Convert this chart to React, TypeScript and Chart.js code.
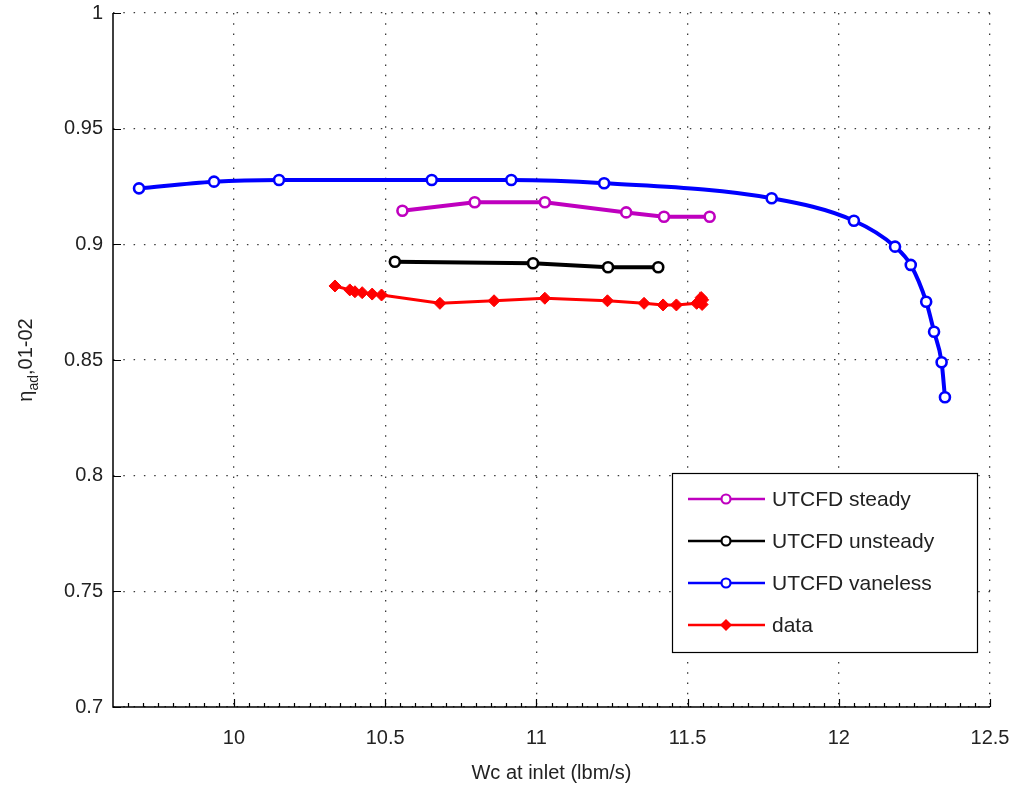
import React, { useEffect, useRef } from "react";
import { Chart, registerables } from "chart.js";

Chart.register(...registerables);

const xTicks = [10, 10.5, 11, 11.5, 12, 12.5];
const yTicks = [0.7, 0.75, 0.8, 0.85, 0.9, 0.95, 1];

const steadyX = [10.557, 10.796, 11.028, 11.297, 11.422, 11.573];
const steadyY = [0.9145, 0.9182, 0.9182, 0.9138, 0.9119, 0.9119];

const unsteadyX = [10.532, 10.989, 11.237, 11.403];
const unsteadyY = [0.8925, 0.8918, 0.8901, 0.8901];

const vanelessX = [9.686, 9.934, 10.149, 10.654, 10.917, 11.224, 11.778, 12.05, 12.186, 12.238, 12.289, 12.315, 12.34, 12.351];
const vanelessY = [0.9242, 0.9271, 0.9278, 0.9278, 0.9278, 0.9264, 0.9199, 0.9102, 0.899, 0.8911, 0.8752, 0.8622, 0.849, 0.8339];

const dataX = [10.334, 10.383, 10.4, 10.424, 10.457, 10.488, 10.681, 10.86, 11.028, 11.235, 11.356, 11.419, 11.463, 11.53, 11.54, 11.548, 11.545, 11.55];
const dataY = [0.882, 0.8803, 0.8795, 0.8791, 0.8785, 0.8781, 0.8745, 0.8756, 0.8767, 0.8756, 0.8745, 0.8738, 0.8738, 0.8745, 0.8752, 0.874, 0.877, 0.876];

const seriesNames = ["UTCFD steady", "UTCFD unsteady", "UTCFD vaneless", "data"];
const seriesColors = ["#bf00bf", "#000000", "#0000ff", "#ff0000"];

const FONT = '"Liberation Sans", Arial, sans-serif';

const pts = (xs: number[], ys: number[]) => xs.map((x, i) => ({ x, y: ys[i] }));

const decorPlugin = {
  id: "decor",
  afterDraw(chart: any) {
    const ctx = chart.ctx;
    const xs = chart.scales.x;
    const ys = chart.scales.y;
    const { left, right, top, bottom } = chart.chartArea;
    ctx.save();
    ctx.strokeStyle = "#000";
    ctx.lineWidth = 1.5;
    ctx.beginPath();
    ctx.moveTo(left, top);
    ctx.lineTo(left, bottom);
    ctx.lineTo(right, bottom);
    ctx.stroke();
    ctx.lineWidth = 1.2;
    ctx.beginPath();
    yTicks.forEach((v) => {
      const py = Math.round(ys.getPixelForValue(v)) + 0.5;
      ctx.moveTo(left, py);
      ctx.lineTo(left + 8, py);
    });
    xTicks.forEach((v) => {
      const px = Math.round(xs.getPixelForValue(v)) + 0.5;
      ctx.moveTo(px, bottom);
      ctx.lineTo(px, bottom - 8);
    });
    for (let k = 193; k <= 250; k++) {
      const v = k * 0.05;
      if (v < xs.min - 1e-9 || v > xs.max + 1e-9) continue;
      const px = Math.round(xs.getPixelForValue(v)) + 0.5;
      ctx.moveTo(px, bottom);
      ctx.lineTo(px, bottom - 4);
    }
    ctx.stroke();

    ctx.fillStyle = "#222";
    ctx.font = `20px ${FONT}`;
    ctx.textAlign = "center";
    ctx.textBaseline = "middle";
    ctx.fillText("Wc at inlet (lbm/s)", (left + right) / 2, 773);

    ctx.translate(32, (top + bottom) / 2);
    ctx.rotate(-Math.PI / 2);
    ctx.textAlign = "left";
    ctx.textBaseline = "alphabetic";
    const mainFont = `20px ${FONT}`;
    const subFont = `14px ${FONT}`;
    ctx.font = mainFont;
    const w1 = ctx.measureText("\u03b7").width;
    const w3 = ctx.measureText(",01-02").width;
    ctx.font = subFont;
    const w2 = ctx.measureText("ad").width;
    let sx = -(w1 + w2 + w3) / 2;
    ctx.font = mainFont;
    ctx.fillText("\u03b7", sx, 0);
    sx += w1;
    ctx.font = subFont;
    ctx.fillText("ad", sx, 6);
    sx += w2;
    ctx.font = mainFont;
    ctx.fillText(",01-02", sx, 0);
    ctx.restore();

    ctx.save();
    const bx = 672, by = 473, bw = 305, bh = 179;
    ctx.fillStyle = "#fff";
    ctx.fillRect(bx, by, bw, bh);
    ctx.strokeStyle = "#000";
    ctx.lineWidth = 1.2;
    ctx.strokeRect(bx + 0.5, by + 0.5, bw, bh);
    const rows = [499, 541, 583, 625];
    rows.forEach((ry, i) => {
      const c = seriesColors[i];
      ctx.strokeStyle = c;
      ctx.lineWidth = 2.5;
      ctx.beginPath();
      ctx.moveTo(688, ry);
      ctx.lineTo(765, ry);
      ctx.stroke();
      if (i === 3) {
        ctx.fillStyle = c;
        ctx.beginPath();
        ctx.moveTo(726, ry - 6);
        ctx.lineTo(732, ry);
        ctx.lineTo(726, ry + 6);
        ctx.lineTo(720, ry);
        ctx.closePath();
        ctx.fill();
      } else {
        ctx.fillStyle = "#fff";
        ctx.lineWidth = 2.2;
        ctx.beginPath();
        ctx.arc(726, ry, 4.5, 0, Math.PI * 2);
        ctx.fill();
        ctx.stroke();
      }
      ctx.fillStyle = "#222";
      ctx.font = `21px ${FONT}`;
      ctx.textAlign = "left";
      ctx.textBaseline = "middle";
      ctx.fillText(seriesNames[i], 772, ry + 1);
    });
    ctx.restore();
  },
};

export default function App() {
  const ref = useRef<HTMLCanvasElement | null>(null);
  useEffect(() => {
    if (!ref.current) return;
    const circleDs = (label: string, xs: number[], ys: number[], color: string, width: number, extra: any = {}) => ({
      label,
      data: pts(xs, ys),
      borderColor: color,
      backgroundColor: "#ffffff",
      borderWidth: width,
      pointStyle: "circle",
      pointRadius: 5,
      pointBorderWidth: 2.6,
      pointBorderColor: color,
      pointBackgroundColor: "#ffffff",
      tension: 0,
      ...extra,
    });
    const chart = new Chart(ref.current, {
      type: "line",
      data: {
        datasets: [
          circleDs(seriesNames[0], steadyX, steadyY, seriesColors[0], 4),
          circleDs(seriesNames[1], unsteadyX, unsteadyY, seriesColors[1], 4),
          circleDs(seriesNames[2], vanelessX, vanelessY, seriesColors[2], 4, { cubicInterpolationMode: "monotone" }),
          {
            label: seriesNames[3],
            data: pts(dataX, dataY),
            borderColor: seriesColors[3],
            backgroundColor: seriesColors[3],
            borderWidth: 3,
            pointStyle: "rectRot",
            pointRadius: 6,
            pointBorderWidth: 1,
            pointBorderColor: seriesColors[3],
            pointBackgroundColor: seriesColors[3],
            tension: 0,
          },
        ] as any,
      },
      options: {
        animation: false,
        responsive: false,
        maintainAspectRatio: false,
        layout: { padding: { top: 13, right: 26, left: 0, bottom: 0 } },
        plugins: { legend: { display: false }, tooltip: { enabled: false } },
        scales: {
          x: {
            type: "linear",
            min: 9.6,
            max: 12.5,
            afterBuildTicks: (s: any) => {
              s.ticks = xTicks.map((v) => ({ value: v }));
            },
            afterFit: (s: any) => {
              s.height = 79;
              s.paddingLeft = 0;
              s.paddingRight = 0;
            },
            grid: { color: "#3a3a3a", lineWidth: 1.3, drawTicks: false },
            border: { display: false, dash: [1.5, 8.8] },
            ticks: {
              padding: 19,
              color: "#222",
              font: { family: FONT, size: 20 },
              maxRotation: 0,
              autoSkip: false,
              callback: (v: any) => String(Number(Number(v).toFixed(2))),
            },
          },
          y: {
            type: "linear",
            min: 0.7,
            max: 1,
            afterBuildTicks: (s: any) => {
              s.ticks = yTicks.map((v) => ({ value: v }));
            },
            afterFit: (s: any) => {
              s.width = 113;
              s.paddingTop = 0;
              s.paddingBottom = 0;
            },
            grid: { color: "#3a3a3a", lineWidth: 1.3, drawTicks: false },
            border: { display: false, dash: [1.5, 8.8] },
            ticks: {
              padding: 10,
              color: "#222",
              font: { family: FONT, size: 20 },
              autoSkip: false,
              callback: (v: any) => String(Number(Number(v).toFixed(2))),
            },
          },
        },
      },
      plugins: [decorPlugin],
    });
    return () => chart.destroy();
  }, []);
  return (
    <div style={{ position: "absolute", left: 0, top: 0, width: 1016, height: 786, background: "#fff" }}>
      <canvas ref={ref} width={1016} height={786} style={{ display: "block" }} />
    </div>
  );
}
